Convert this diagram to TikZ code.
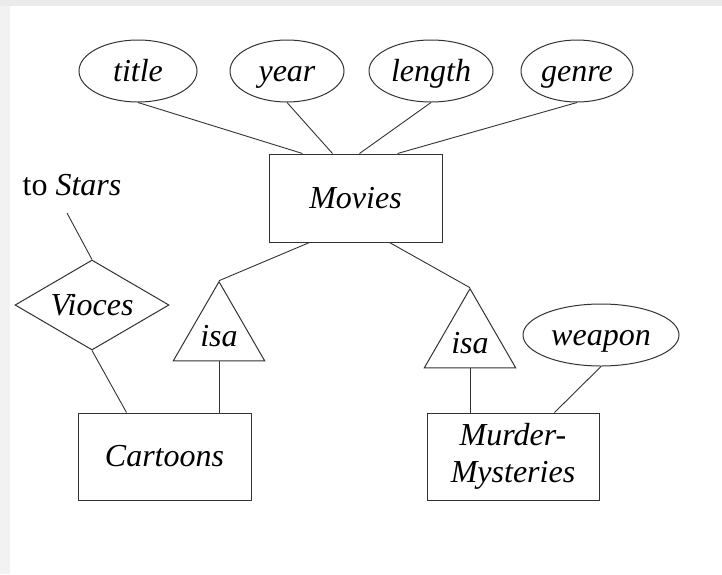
\documentclass[tikz,border=0pt]{standalone}
\usepackage{fontspec}
\setmainfont{Liberation Serif}
\usetikzlibrary{shapes.geometric}
\begin{document}
\begin{tikzpicture}[x=1pt,y=-1pt,
  every node/.style={font=\fontsize{32}{37}\selectfont\itshape, text=black},
  oneline/.style={text height=23pt, text depth=3pt},
  outline/.style={draw=black!80, line width=1pt},
  entity/.style={outline, rectangle, minimum width=173pt, minimum height=88pt, inner sep=0pt},
  attr/.style={outline, ellipse, oneline, minimum height=62pt, inner sep=0pt},
  rel/.style={outline, diamond, oneline, shape aspect=1.71, minimum width=154pt, minimum height=90pt, inner sep=0pt},
  isatri/.style={outline, regular polygon, regular polygon sides=3, text height=24pt, text depth=0pt, minimum size=93pt, inner sep=0pt},
  link/.style={draw=black!80, line width=0.9pt}]

% page and the grey margin bands
\useasboundingbox (0,0) rectangle (722,574);
\fill[white] (0,0) rectangle (722,574);
\fill[black!8] (0,0) rectangle (722,6);
\fill[black!5] (0,6) rectangle (10,574);

% entity sets
\node[entity, oneline] (movies) at (355.5,198) {Movies};
\node[entity, oneline, minimum height=87pt] (cartoons) at (164.5,456.5) {Cartoons};
\node[entity, minimum width=172pt, minimum height=87pt, align=center] (murder) at (513,456.5) {Murder-\\Mysteries};

% attributes of Movies
\node[attr, minimum width=118pt] (title)  at (138,71) {title};
\node[attr, minimum width=114pt] (year)   at (287,71) {year};
\node[attr, minimum width=124pt] (length) at (431,71) {length};
\node[attr, minimum width=112pt] (genre)  at (577,71) {genre};
\node[attr, minimum width=156pt] (weapon) at (601,335) {weapon};

% relationship and isa triangles
\node[rel] (voices) at (92,305) {Vioces};
\node[isatri] (isaL) at (219,334.5) {isa};
\node[isatri] (isaR) at (470,341.5) {isa};

% dangling reference to Stars
\node[anchor=base] (stars) at (72,195) {{\upshape to} Stars};
\coordinate (starsend) at (67,213);

% attribute links
\draw[link] (title.south)  -- ([xshift=34pt]movies.north west);
\draw[link] (year.south)   -- ([xshift=64pt]movies.north west);
\draw[link] (length.south) -- ([xshift=91pt]movies.north west);
\draw[link] (genre.south)  -- ([xshift=129pt]movies.north west);
\draw[link] (weapon.south) -- ([xshift=128pt]murder.north west);

% isa hierarchy
\draw[link] ([xshift=41pt]movies.south west) -- (isaL.north);
\draw[link] ([xshift=121pt]movies.south west) -- (isaR.north);
\draw[link] (isaL.south) -- (isaL.south |- cartoons.north);
\draw[link] (isaR.south) -- (isaR.south |- murder.north);

% Voices relationship
\draw[link] (starsend) -- (voices.north);
\draw[link] (voices.south) -- ([xshift=49pt]cartoons.north west);
\end{tikzpicture}
\end{document}
